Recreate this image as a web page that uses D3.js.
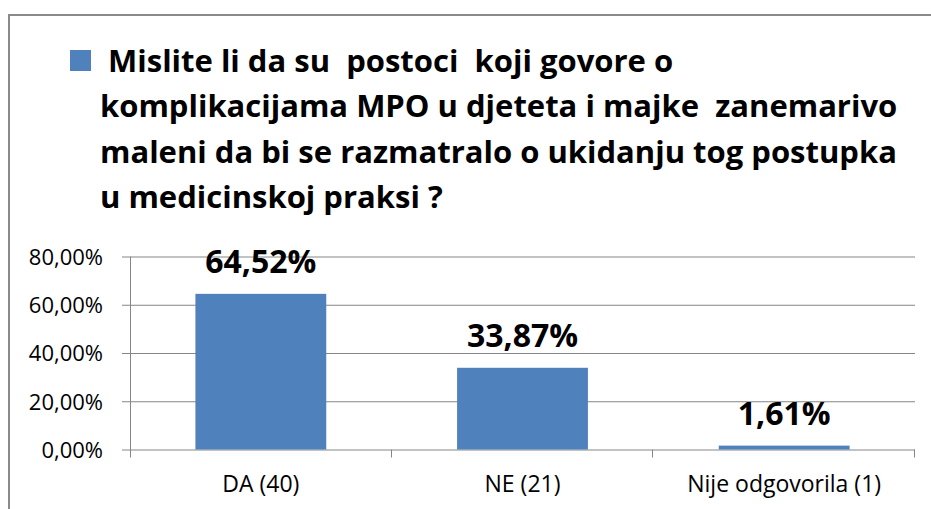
<!DOCTYPE html>
<html>
<head>
<meta charset="utf-8">
<script src="https://cdn.jsdelivr.net/npm/d3@7"></script>
<style>
  body { margin: 0; background: #fff; }
  svg { display: block; }
  text { font-family: "Open Sans", sans-serif; fill: #000; }
</style>
</head>
<body>
<svg id="chart" width="931" height="509"></svg>
<script>
const titleLines = [
    " Mislite li da su  postoci  koji govore o",
    "komplikacijama MPO u djeteta i majke  zanemarivo",
    "maleni da bi se razmatralo o ukidanju tog postupka",
    "u medicinskoj praksi ?"
];
const categories = ["DA (40)", "NE (21)", "Nije odgovorila (1)"];
const values = [64.52, 33.87, 1.61];
const yTicks = [0, 20, 40, 60, 80];

const barColor = "#4f81bd";
const gridColor = "#868686";

let svg = d3.select("#chart");

// outer frame (only top and left edges are visible)
svg.append("path")
    .attr("d", "M9,509 L9,15 L931,15")
    .attr("fill", "none")
    .attr("stroke", "#8a8a8a")
    .attr("stroke-width", 2);

// title with bullet square
svg.append("rect")
    .attr("x", 70).attr("y", 50)
    .attr("width", 21).attr("height", 21)
    .attr("fill", barColor);

let title = svg.append("g").attr("class", "title");
title.selectAll("text")
    .data(titleLines)
    .enter()
    .append("text")
    .attr("x", 100)
    .attr("y", (d, i) => 72 + i * 45.3)
    .attr("font-size", "31px")
    .attr("font-weight", "bold")
    .style("white-space", "pre")
    .text(d => d);

// scales
let x = d3.scaleBand()
    .domain(categories)
    .range([130, 915])
    .paddingInner(0.5)
    .paddingOuter(0.25);

let y = d3.scaleLinear()
    .domain([0, 80])
    .range([449.5, 256.5]);

// gridlines
let grid = svg.append("g")
    .attr("transform", "translate(130,0)")
    .call(d3.axisLeft(y).tickValues(yTicks).tickSize(-785).tickFormat(""));
grid.select(".domain").remove();
grid.selectAll("line").attr("stroke", gridColor);

// y axis
let yAxis = svg.append("g")
    .attr("transform", "translate(130,0)")
    .call(d3.axisLeft(y)
        .tickValues(yTicks)
        .tickSize(8)
        .tickPadding(19)
        .tickFormat(d => d.toFixed(2).replace(".", ",") + "%"));
yAxis.select(".domain").remove();
yAxis.selectAll("line").attr("stroke", gridColor);
yAxis.selectAll("text")
    .attr("font-size", "22px")
    .attr("font-family", "Open Sans, sans-serif")
    .attr("fill", "#000")
    .attr("dy", "0.36em");

// vertical axis line (runs down past zero like a tick)
svg.append("line")
    .attr("x1", 130.5).attr("x2", 130.5)
    .attr("y1", y(80)).attr("y2", y(0) + 8)
    .attr("stroke", gridColor);

// x axis ticks at category boundaries
let bounds = [x.range()[0]].concat(categories.map(c => x(c) + x.bandwidth() / 2 + x.step() / 2));
svg.append("g")
    .selectAll("line")
    .data(bounds.slice(1))
    .enter()
    .append("line")
    .attr("x1", d => Math.round(d) - 0.5).attr("x2", d => Math.round(d) - 0.5)
    .attr("y1", y(0)).attr("y2", y(0) + 8)
    .attr("stroke", gridColor);

// x axis labels
let xAxis = svg.append("g")
    .attr("transform", "translate(0," + y(0) + ")")
    .call(d3.axisBottom(x).tickSize(0).tickPadding(26));
xAxis.select(".domain").remove();
xAxis.selectAll("text")
    .attr("font-size", "23px")
    .attr("font-family", "Open Sans, sans-serif")
    .attr("fill", "#000");

// bars
svg.append("g")
    .selectAll("rect")
    .data(values)
    .enter()
    .append("rect")
    .attr("x", (d, i) => x(categories[i]))
    .attr("y", d => y(d))
    .attr("width", x.bandwidth())
    .attr("height", d => y(0) - y(d))
    .attr("fill", barColor);

// value labels
svg.append("g")
    .selectAll("text")
    .data(values)
    .enter()
    .append("text")
    .attr("x", (d, i) => x(categories[i]) + x.bandwidth() / 2)
    .attr("y", d => y(d) - 21)
    .attr("text-anchor", "middle")
    .attr("font-size", "32px")
    .attr("font-weight", "bold")
    .text(d => d.toFixed(2).replace(".", ",") + "%");
</script>
</body>
</html>
